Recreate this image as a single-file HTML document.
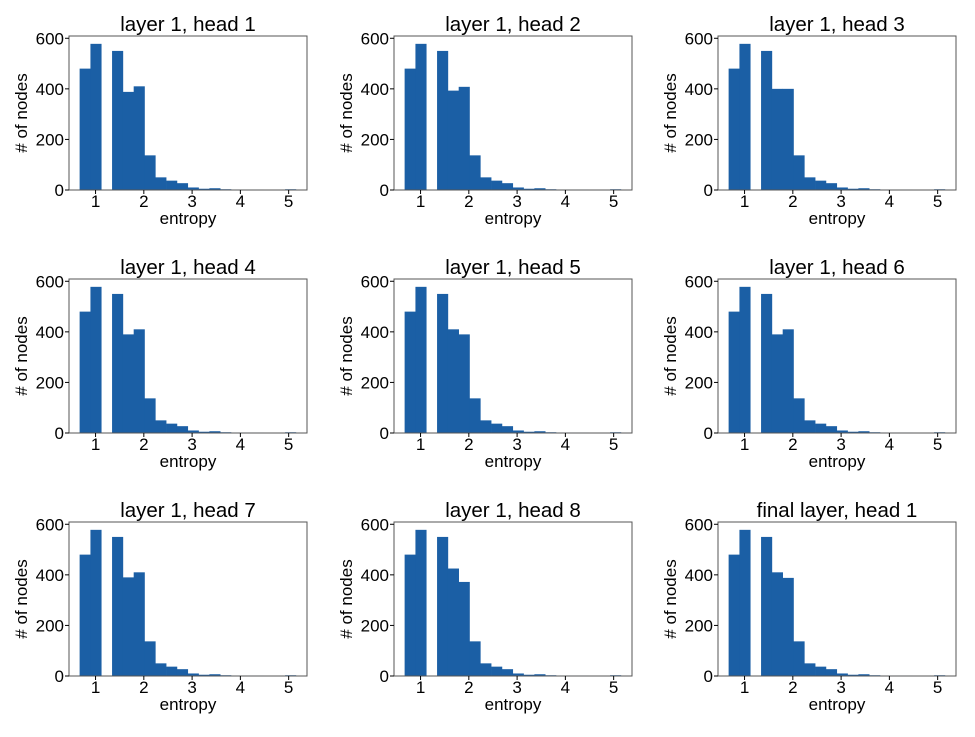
<!DOCTYPE html>
<html><head><meta charset="utf-8"><style>
html,body{margin:0;padding:0;background:#fff;}
svg text{font-family:"Liberation Sans","DejaVu Sans",sans-serif;fill:#000;}
</style></head><body>
<svg id="fig" width="975" height="732" viewBox="0 0 975 732" xmlns="http://www.w3.org/2000/svg"></svg>
<script>
const titles = ["layer 1, head 1","layer 1, head 2","layer 1, head 3","layer 1, head 4","layer 1, head 5","layer 1, head 6","layer 1, head 7","layer 1, head 8","final layer, head 1"];
const binStart = 0.67;
const binWidth = 0.224;
const commonTail = [137,50,37,27,10,5,7,3,2,2,2,0,0,3];
const bins4 = [388,393,400,390,410,390,390,425,410];
const bins5 = [410,408,400,410,390,410,410,372,388];
const bins0 = [480,480,480,480,480,480,480,480,480];
const bins1 = [578,578,578,578,578,578,578,578,578];
const bins3 = [550,550,550,550,550,550,550,550,550];
const xTicks = [1,2,3,4,5];
const yTicks = [0,200,400,600];
const xMin = 0.45, xMax = 5.38, yMax = 609;

const svg = document.getElementById('fig');
const NS = 'http://www.w3.org/2000/svg';
function mk(tag, attrs, parent){ const e=document.createElementNS(NS,tag); for(const k in attrs) e.setAttribute(k,attrs[k]); parent.appendChild(e); return e; }
const colLeft=[69,394,718], rowTop=[36,279,522], W=238, H=154;

titles.forEach((t,i)=>{
  const L=colLeft[i%3], T=rowTop[Math.floor(i/3)];
  const xs=v=>L+(v-xMin)/(xMax-xMin)*W;
  const ys=v=>T+H-v/yMax*H;
  const g=mk('g',{},svg);
  
  
  const vals=[bins0[i],bins1[i],0,bins3[i],bins4[i],bins5[i]].concat(commonTail);
  vals.forEach((v,b)=>{
    if(v<=0) return;
    const x0=xs(binStart+b*binWidth), x1=xs(binStart+(b+1)*binWidth);
    const r=mk('rect',{x:x0,y:ys(v),width:x1-x0+0.3,height:ys(0)-ys(v),fill:'#1b5fa5'},g);
    
    
  });
  const frame=mk('rect',{x:L,y:T,width:W,height:H,fill:'none',stroke:'#555','stroke-width':1},g);
  
  
  xTicks.forEach(v=>{
    mk('line',{x1:xs(v),x2:xs(v),y1:T+H,y2:T+H+4,stroke:'#000'},g);
    const tx=mk('text',{x:xs(v),y:T+H+17,'text-anchor':'middle','font-size':17},g);
    tx.textContent=v;
    
    
  });
  yTicks.forEach(v=>{
    mk('line',{x1:L-4,x2:L,y1:ys(v),y2:ys(v),stroke:'#000'},g);
    const tx=mk('text',{x:L-5,y:ys(v)+6,'text-anchor':'end','font-size':17},g);
    tx.textContent=v;
    
    
  });
  const tt=mk('text',{x:L+W/2,y:T-5,'text-anchor':'middle','font-size':20.5},g);
  tt.textContent=t;
  
  
  const xl=mk('text',{x:L+W/2,y:T+H+34,'text-anchor':'middle','font-size':17},g);
  xl.textContent='entropy';
  
  
  const yl=mk('text',{x:0,y:0,'text-anchor':'middle','font-size':17,transform:`translate(${L-42},${T+H/2}) rotate(-90)`},g);
  yl.textContent='# of nodes';
  
  
});
</script>
</body></html>
